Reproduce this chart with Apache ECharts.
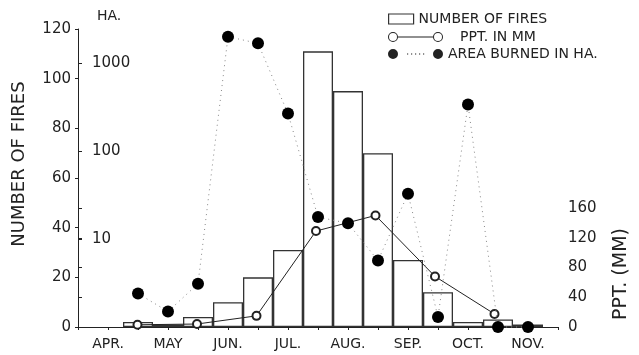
<!DOCTYPE html>
<html>
<head>
<meta charset="utf-8">
<script src="https://cdn.jsdelivr.net/npm/echarts@6/dist/echarts.min.js"></script>
<style>
  html, body { margin: 0; padding: 0; background: #fff; }
  #chart { width: 639px; height: 355px; }
</style>
</head>
<body>
<div id="chart"></div>
<script>
// Season runs in half-month slots; month names sit on the odd slots.
const monthLabels = ['APR.', 'MAY', 'JUN.', 'JUL.', 'AUG.', 'SEP.', 'OCT.', 'NOV.'];
const firstSlot = 2;                       // slot of the first half-month value
const numberOfFires = [2, 1, 4, 10, 20, 31, 111, 95, 70, 27, 14, 2, 3, 1];
const areaBurnedHa = [2.4, 1.5, 3.1, 2000, 1680, 267, 17.8, 15.1, 5.7, 32.7, 1.3, 338, 1, 1];
const pptSlots = [2, 4, 6, 8, 10, 12, 14];
const pptMm = [3, 4, 15, 129, 150, 68, 17.5];
const haTicks = [10, 100, 1000];

const ink = '#222';
const font = 'DejaVu Sans';

const firesData = numberOfFires.map((v, i) => [firstSlot + i, v]);
const areaData = areaBurnedHa.map((v, i) => [firstSlot + i, v]);
const pptData = pptMm.map((v, i) => [pptSlots[i], v]);

// Legend glyphs: two open rings joined by a rule, and two dots joined by a dotted rule
const ring = cx => `M${cx - 5},5 A5,5 0 1,0 ${cx + 5},5 A5,5 0 1,0 ${cx - 5},5 Z ` +
                   `M${cx - 4},5 A4,4 0 1,1 ${cx + 4},5 A4,4 0 1,1 ${cx - 4},5 Z `;
const disc = cx => `M${cx - 5},5 A5,5 0 1,0 ${cx + 5},5 A5,5 0 1,0 ${cx - 5},5 Z `;
const pptIcon = 'path://' + ring(5) + ring(50) + 'M10,4.5 L45,4.5 L45,5.5 L10,5.5 Z';
const areaIcon = 'path://' + disc(5) + disc(50) +
  [19, 23, 27, 31, 35].map(x => `M${x},4.4 L${x + 1.2},4.4 L${x + 1.2},5.6 L${x},5.6 Z`).join(' ');

const legendText = { fontFamily: font, fontSize: 14, color: ink };

const chart = echarts.init(document.getElementById('chart'), null, { renderer: 'canvas' });
chart.setOption({
  animation: false,
  backgroundColor: '#fff',
  textStyle: { fontFamily: font, color: ink },
  grid: [
    { left: 78, right: 81, top: 29, bottom: 28 },
    { left: 78, right: 81, top: 208, bottom: 28 }
  ],
  legend: [
    {
      data: [{ name: 'NUMBER OF FIRES', icon: 'rect' }],
      left: 388, top: 12, padding: 0, itemWidth: 25, itemHeight: 10,
      selectedMode: false, textStyle: legendText,
      itemStyle: { color: '#fff', borderColor: '#333', borderWidth: 1.2 }
    },
    {
      data: [{ name: 'PPT. IN MM', icon: pptIcon }],
      left: 388, top: 30, padding: 0, itemWidth: 55, itemHeight: 10,
      selectedMode: false, textStyle: Object.assign({ padding: [0, 0, 0, 12] }, legendText),
      itemStyle: { color: ink, borderWidth: 0 }
    },
    {
      data: [{ name: 'AREA BURNED IN HA.', icon: areaIcon }],
      left: 388, top: 47, padding: 0, itemWidth: 55, itemHeight: 10,
      selectedMode: false, textStyle: legendText,
      itemStyle: { color: ink, borderWidth: 0 }
    }
  ],
  xAxis: [
    {
      type: 'value', gridIndex: 0, min: 0, max: 16, interval: 1,
      axisLine: { lineStyle: { color: ink, width: 1 } },
      axisTick: { length: 3, lineStyle: { color: ink } },
      axisLabel: {
        margin: 10, fontSize: 14, color: ink, fontFamily: font,
        formatter: v => (v % 2 === 1 ? monthLabels[(v - 1) / 2] : '')
      },
      splitLine: { show: false }
    },
    { type: 'value', gridIndex: 1, min: 0, max: 16, show: false }
  ],
  yAxis: [
    {
      type: 'value', gridIndex: 0, position: 'left', min: 0, max: 120, interval: 20,
      name: 'NUMBER OF FIRES', nameLocation: 'middle', nameRotate: 90, nameGap: 50,
      nameTextStyle: { fontSize: 18, color: ink, fontFamily: font, padding: [0, 0, 0, 28] },
      axisLine: { show: true, lineStyle: { color: ink, width: 1 } },
      axisTick: { show: true, length: 3, lineStyle: { color: ink } },
      axisLabel: { margin: 7, fontSize: 15, color: ink, fontFamily: font },
      splitLine: { show: false }
    },
    {
      type: 'log', gridIndex: 0, position: 'left', logBase: 10, min: 1, max: 2445,
      name: 'HA.', nameLocation: 'end', nameGap: 6,
      nameTextStyle: { fontSize: 14, color: ink, fontFamily: font, align: 'left', padding: [0, 0, 0, 19] },
      axisLine: { show: false },
      axisTick: { show: true, inside: true, length: 4, customValues: haTicks, lineStyle: { color: ink } },
      axisLabel: {
        inside: true, margin: 14, fontSize: 15, color: ink, fontFamily: font,
        customValues: haTicks, formatter: v => String(Math.round(v))
      },
      splitLine: { show: false }
    },
    {
      type: 'value', gridIndex: 1, position: 'right', min: 0, max: 160, interval: 40,
      name: 'PPT. (MM)', nameLocation: 'middle', nameRotate: 90, nameGap: 58,
      nameTextStyle: { fontSize: 19, color: ink, fontFamily: font, padding: [0, 13, 0, 0] },
      axisLine: { show: true, lineStyle: { color: ink, width: 1 } },
      axisTick: { show: true, length: 4, lineStyle: { color: ink } },
      axisLabel: { margin: 14, fontSize: 15, color: ink, fontFamily: font },
      splitLine: { show: false }
    }
  ],
  series: [
    {
      name: 'NUMBER OF FIRES', type: 'bar', xAxisIndex: 0, yAxisIndex: 0,
      data: firesData, barWidth: 30,
      itemStyle: { color: '#fff', borderColor: '#333', borderWidth: 1.3 },
      z: 2
    },
    {
      name: 'PPT. IN MM', type: 'line', xAxisIndex: 1, yAxisIndex: 2,
      data: pptData, symbol: 'emptyCircle', symbolSize: 8, clip: false,
      itemStyle: { color: ink, borderColor: ink, borderWidth: 1 },
      lineStyle: { color: ink, width: 1 },
      z: 3
    },
    {
      name: 'AREA BURNED IN HA.', type: 'line', xAxisIndex: 0, yAxisIndex: 1,
      data: areaData, symbol: 'circle', symbolSize: 12, clip: false,
      itemStyle: { color: '#000' },
      lineStyle: { color: '#888', width: 1, type: [1, 4] },
      z: 4
    }
  ]
});
</script>
</body>
</html>
